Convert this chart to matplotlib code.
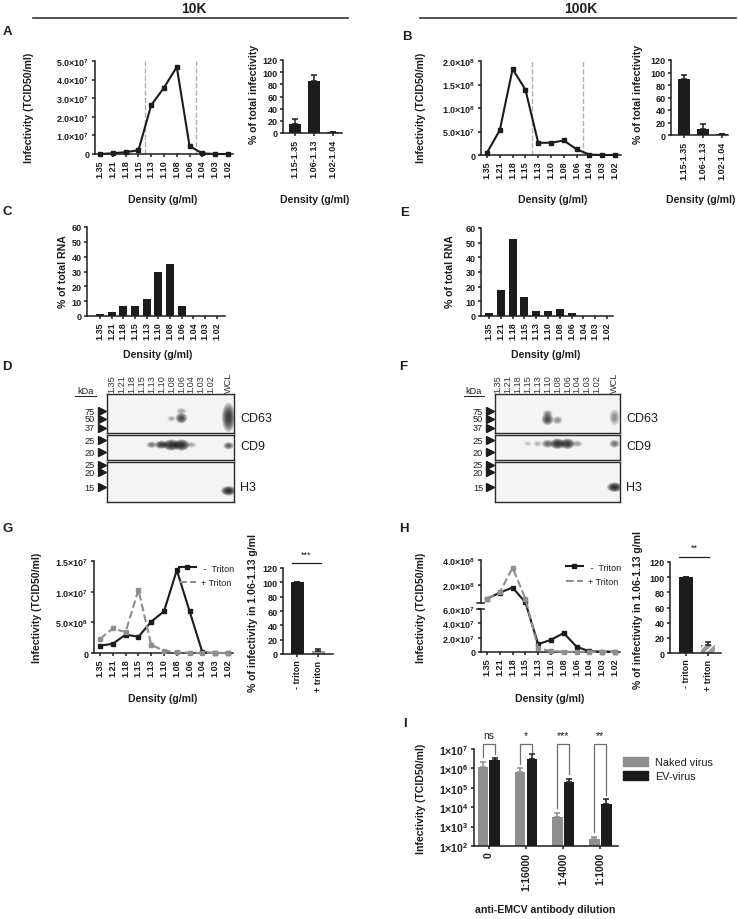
import numpy as np
import matplotlib
matplotlib.use("Agg")
import matplotlib.pyplot as plt
from matplotlib.patches import Ellipse, Patch
from matplotlib.lines import Line2D
from matplotlib.ticker import LogLocator, NullFormatter

plt.rcParams['font.family'] = ['Liberation Sans', 'DejaVu Sans']
plt.rcParams['font.weight'] = 'bold'
plt.rcParams['mathtext.fontset'] = 'custom'
plt.rcParams['mathtext.rm'] = 'Liberation Sans'
plt.rcParams['mathtext.bf'] = 'Liberation Sans:bold'
plt.rcParams['axes.linewidth'] = 1.1
plt.rcParams['text.color'] = '#1e1e1e'

# ---- data ----
density = ['1.35', '1.21', '1.18', '1.15', '1.13', '1.10', '1.08', '1.06', '1.04', '1.03', '1.02']
pools = ['1.15-1.35', '1.06-1.13', '1.02-1.04']

a_infect = [0.0, 0.4e6, 1.0e6, 2.0e6, 2.63e7, 3.57e7, 4.68e7, 4.3e6, 0.3e6, 0.0, 0.0]
a_pool = [14, 85, 1]
a_pool_err = [9, 10, 0.5]

b_infect = [5e6, 5.3e7, 1.83e8, 1.39e8, 2.6e7, 2.6e7, 3.1e7, 1.2e7, 1e6, 0.0, 0.0]
b_pool = [89, 10, 1]
b_pool_err = [7, 7, 0.5]

c_rna = [1.5, 2.5, 6.5, 7, 11.5, 30, 35, 6.5, 0, 0, 0]
e_rna = [2.3, 17.5, 52.5, 13.2, 3.2, 3.2, 4.8, 1.8, 0, 0, 0]

g_minus = [1.2e6, 1.5e6, 3.0e6, 2.65e6, 5.1e6, 6.8e6, 13.5e6, 6.8e6, 0.1e6, 0.0, 0.0]
g_plus = [2.3e6, 4.0e6, 3.4e6, 10.3e6, 1.3e6, 0.4e6, 0.1e6, 0.05e6, 0.0, 0.0, 0.0]
g_pool = [100, 4]
g_pool_err = [0, 3.5]

h_minus = [9.3e7, 1.42e8, 1.82e8, 6.5e7, 1.1e7, 1.7e7, 2.65e7, 0.74e7, 0.1e7, 0.05e7, 0.05e7]
h_plus = [9.5e7, 1.45e8, 3.38e8, 9.5e7, 0.5e7, 0.14e7, 0.05e7, 0.02e7, 0.0, 0.0, 0.0]
h_pool = [100, 10]
h_pool_err = [0, 4]
triton_labels = ['- triton', '+ triton']

dilutions = ['0', '1:16000', '1:4000', '1:1000']
naked = [1.2e6, 6.2e5, 3.0e3, 240]
naked_err = [2.2e6, 1.0e6, 5.3e3, 300]
ev = [2.7e6, 3.0e6, 2.0e5, 1.55e4]
ev_err = [3.4e6, 5.5e6, 3.0e5, 2.6e4]
sig = ['ns', '*', '***', '**']

# western blots: lanes and bands (lane, y frac, width, height, intensity)
lanes = density + ['WCL']
lane_pos = list(range(11)) + [11.75]
d_cd63 = [(6, 0.37, 0.6, 0.10, 0.25), (7, 0.38, 0.8, 0.18, 0.75), (7, 0.56, 0.7, 0.12, 0.25),
          (11.75, 0.40, 0.9, 0.50, 0.85)]
d_cd9 = [(4, 0.61, 0.7, 0.18, 0.45), (5, 0.61, 0.9, 0.22, 0.85), (6, 0.60, 1.1, 0.30, 1.0),
         (7, 0.60, 1.1, 0.30, 1.0), (8, 0.61, 0.7, 0.16, 0.25), (11.75, 0.57, 0.7, 0.20, 0.6)]
d_h3 = [(11.75, 0.28, 1.0, 0.16, 1.0)]
f_cd63 = [(5, 0.35, 0.8, 0.20, 0.75), (5, 0.50, 0.7, 0.12, 0.35), (6, 0.33, 0.7, 0.14, 0.35),
          (11.75, 0.40, 0.7, 0.28, 0.35)]
f_cd9 = [(3, 0.65, 0.5, 0.14, 0.15), (4, 0.65, 0.6, 0.16, 0.2), (5, 0.65, 0.8, 0.22, 0.55),
         (6, 0.65, 1.0, 0.28, 0.95), (7, 0.65, 1.0, 0.28, 0.9), (8, 0.65, 0.7, 0.18, 0.3),
         (11.75, 0.65, 0.7, 0.22, 0.5)]
f_h3 = [(11.75, 0.37, 1.0, 0.16, 1.0)]
kda_cd63 = [('75', 0.56), ('50', 0.36), ('37', 0.13)]
kda_cd9 = [('25', 0.80), ('20', 0.32)]
kda_h3 = [('25', 0.93), ('20', 0.75), ('15', 0.37)]

BLACK = '#1c1c1c'
GREY = '#8e8e8e'

W, H = 738, 920
fig = plt.figure(figsize=(W / 100, H / 100), dpi=100)


def px_axes(left, top, right, bottom):
    return fig.add_axes([left / W, 1 - bottom / H, (right - left) / W, (bottom - top) / H])


def ftext(x, y, s, **kw):
    return fig.text(x / W, 1 - y / H, s, **kw)


def style(ax, size=6.5):
    for s in ['top', 'right']:
        ax.spines[s].set_visible(False)
    for s in ['left', 'bottom']:
        ax.spines[s].set_color('#1e1e1e')
    ax.tick_params(direction='out', length=2.5, width=1.1, labelsize=size, pad=1.5, colors='#1e1e1e')


def sci(v):
    if v == 0:
        return '0'
    e = int(np.floor(np.log10(v) + 1e-9))
    return r'$\mathbf{%.1f{\times}10^{%d}}$' % (v / 10 ** e, e)


def density_line(ax, xlim, series, ymax, yticks):
    style(ax)
    x = np.arange(len(density))
    for vals, color, ls in series:
        ax.plot(x, vals, color=color, ls=ls, lw=1.5, marker='s', ms=2.3, clip_on=False, zorder=3)
    ax.set_xlim(*xlim)
    ax.set_ylim(0, ymax)
    ax.set_xticks(x)
    ax.set_xticklabels(density, rotation=90)
    ax.set_yticks(yticks)
    ax.set_yticklabels([sci(v) for v in yticks])


def pool_bars(ax, xlim, vals, errs, labels, colors, hatch=None):
    style(ax)
    x = np.arange(len(vals))
    bars = ax.bar(x, vals, width=0.62, color=colors, edgecolor=colors, lw=0)
    if hatch:
        bars[-1].set_hatch(hatch)
        bars[-1].set_edgecolor('white')
    ax.errorbar(x, vals, yerr=[np.zeros(len(errs)), errs], fmt='none', ecolor=BLACK,
                elinewidth=1.1, capsize=2.5, capthick=1.1)
    ax.set_xlim(*xlim)
    ax.set_ylim(0, 120)
    ax.set_yticks(range(0, 121, 20))
    ax.set_xticks(x)
    ax.set_xticklabels(labels, rotation=90)


# ---- header ----
ftext(194, 9, '10K', fontsize=10, ha='center', va='center')
ftext(581, 9, '100K', fontsize=10, ha='center', va='center')
fig.add_artist(Line2D([33 / W, 348 / W], [1 - 19 / H] * 2, lw=1.2, color='#333333'))
fig.add_artist(Line2D([420 / W, 736 / W], [1 - 19 / H] * 2, lw=1.2, color='#333333'))

for letter, x, y in [('A', 7, 32), ('B', 407, 37), ('C', 7, 212), ('E', 405, 213),
                     ('D', 7, 367), ('F', 403, 367), ('G', 8, 529), ('H', 404, 529), ('I', 405, 724)]:
    ftext(x, y, letter, fontsize=9.5, ha='center', va='center')

# ---- A ----
ax = px_axes(95, 62, 233, 155)
density_line(ax, (-0.4, 10.4), [(a_infect, BLACK, '-')], 5e7, [0, 1e7, 2e7, 3e7, 4e7, 5e7])
for xv in [3.5, 7.5]:
    ax.axvline(xv, color='#b0b0b0', lw=1.0, ls='--', zorder=1)
ftext(29, 108, 'Infectivity (TCID50/ml)', fontsize=7.6, rotation=90, ha='center', va='center')
ftext(163, 200, 'Density (g/ml)', fontsize=7.6, ha='center', va='center')

ax = px_axes(283, 61, 342, 134)
pool_bars(ax, (-0.63, 2.47), a_pool, a_pool_err, pools, [BLACK] * 3)
ftext(254, 94, '% of total infectivity', fontsize=7.6, rotation=90, ha='center', va='center')
ftext(315, 200, 'Density (g/ml)', fontsize=7.6, ha='center', va='center')

# ---- B ----
ax = px_axes(481, 62, 621, 156)
density_line(ax, (-0.47, 10.47), [(b_infect, BLACK, '-')], 2e8, [0, 5e7, 1e8, 1.5e8, 2e8])
for xv in [3.5, 7.5]:
    ax.axvline(xv, color='#b0b0b0', lw=1.0, ls='--', zorder=1)
ftext(421, 108, 'Infectivity (TCID50/ml)', fontsize=7.6, rotation=90, ha='center', va='center')
ftext(553, 200, 'Density (g/ml)', fontsize=7.6, ha='center', va='center')

ax = px_axes(671, 61, 728, 136)
pool_bars(ax, (-0.68, 2.32), b_pool, b_pool_err, pools, [BLACK] * 3)
ftext(638, 94, '% of total infectivity', fontsize=7.6, rotation=90, ha='center', va='center')
ftext(701, 200, 'Density (g/ml)', fontsize=7.6, ha='center', va='center')

# ---- C / E ----
for box, xlim, vals, ylab_x, dens_x in [((87, 228, 225, 317), (-1.1, 10.7), c_rna, 63, 158),
                                        ((481, 229, 613, 317), (-0.68, 10.5), e_rna, 450, 546)]:
    ax = px_axes(*box)
    style(ax)
    x = np.arange(len(density))
    ax.bar(x, vals, width=0.68, color=BLACK)
    ax.set_xlim(*xlim)
    ax.set_ylim(0, 60)
    ax.set_yticks(range(0, 61, 10))
    ax.set_xticks(x)
    ax.set_xticklabels(density, rotation=90)
    ftext(ylab_x, 272, '% of total RNA', fontsize=7.6, rotation=90, ha='center', va='center')
    ftext(dens_x, 355, 'Density (g/ml)', fontsize=7.6, ha='center', va='center')


# ---- D / F blots ----
def blot(ax, bands, xlim, label, kda, top=False):
    ax.set_xlim(*xlim)
    ax.set_ylim(0, 1)
    ax.set_facecolor('#f4f4f4')
    for lane, yc, w, h, v in bands:
        for s in np.linspace(1.5, 0.45, 7):
            ax.add_patch(Ellipse((lane, yc), w * s, h * s, color='black', alpha=min(1, v * 0.2), lw=0))
    for sp in ax.spines.values():
        sp.set_color('#2a2a2a')
        sp.set_linewidth(1.0)
    ax.set_yticks([])
    if top:
        ax.xaxis.tick_top()
        ax.set_xticks(lane_pos)
        ax.set_xticklabels(lanes, rotation=90, fontsize=6.6, fontweight='normal', color='#333333')
        ax.tick_params(axis='x', length=0, pad=1.5)
    else:
        ax.set_xticks([])
    ax.text(1.05, 0.38 if label != 'CD9' else 0.55, label, transform=ax.transAxes,
            fontsize=9, fontweight='normal', va='center', ha='left')
    trans = ax.get_yaxis_transform()
    for txt, yf in kda:
        ax.plot([-0.042], [yf], marker='>', ms=5.5, color=BLACK, transform=trans, clip_on=False)
        ax.text(-0.095, yf, txt, transform=trans, fontsize=6.6, fontweight='normal',
                ha='right', va='center')


for left, right, xlim, sets in [(107, 234, (-0.5, 12.3), (d_cd63, d_cd9, d_h3)),
                                (495, 620, (-0.3, 12.3), (f_cd63, f_cd9, f_h3))]:
    ax1 = px_axes(left, 395, right, 434)
    blot(ax1, sets[0], xlim, 'CD63', kda_cd63, top=True)
    ax1.text(-0.17, 1.08, 'kDa', transform=ax1.transAxes, fontsize=6.6, fontweight='normal',
             ha='center', va='center')
    ax1.plot([-0.25, -0.09], [0.96, 0.96], transform=ax1.transAxes, color='#1e1e1e', lw=0.7,
             clip_on=False)
    ax2 = px_axes(left, 436, right, 461)
    blot(ax2, sets[1], xlim, 'CD9', kda_cd9)
    ax3 = px_axes(left, 463, right, 503)
    blot(ax3, sets[2], xlim, 'H3', kda_h3)

# ---- G ----
ax = px_axes(94, 562, 233, 654)
density_line(ax, (-0.47, 10.39), [(g_minus, BLACK, '-'), (g_plus, GREY, '--')], 1.5e7,
             [0, 5e6, 1e7, 1.5e7])
handles = [Line2D([], [], color=BLACK, lw=1.5, marker='s', ms=2.3),
           Line2D([], [], color=GREY, lw=1.5, ls='--')]
ax.legend(handles, [' -  Triton', '+ Triton'], loc='upper right', bbox_to_anchor=(1.07, 1.06),
          frameon=False, prop={'size': 6.5, 'weight': 'normal'}, handlelength=1.9,
          handletextpad=0.6, labelspacing=0.6, numpoints=1)
ftext(37, 608, 'Infectivity (TCID50/ml)', fontsize=7.6, rotation=90, ha='center', va='center')
ftext(163, 699, 'Density (g/ml)', fontsize=7.6, ha='center', va='center')

ax = px_axes(283, 569, 333, 655)
pool_bars(ax, (-0.67, 1.71), g_pool, g_pool_err, triton_labels, [BLACK, '#9a9a9a'])
ax.plot([-0.25, 1.15], [127, 127], color='#1e1e1e', lw=0.9, clip_on=False)
ax.text(0.45, 133, '***', ha='center', va='bottom', fontsize=6.5, fontweight='normal')
ftext(253, 613, '% of infectivity in 1.06-1.13 g/ml', fontsize=7.6, rotation=90,
      ha='center', va='center')

# ---- H (broken y axis) ----
H_LOW, H_TOP = 6e7, 4e8


def h_fwd(y):
    y = np.asarray(y, dtype=float)
    return np.where(y <= H_LOW, y / H_LOW * 43.0, 49.0 + (y - H_LOW) / (H_TOP - H_LOW) * 43.0)


def h_inv(v):
    v = np.asarray(v, dtype=float)
    return np.where(v <= 43.0, v / 43.0 * H_LOW,
                    np.where(v < 49.0, H_LOW, H_LOW + (v - 49.0) / 43.0 * (H_TOP - H_LOW)))


ax = px_axes(481, 561, 620, 653)
ax.set_yscale('function', functions=(h_fwd, h_inv))
density_line(ax, (-0.47, 10.4), [(h_minus, BLACK, '-'), (h_plus, GREY, '--')], H_TOP,
             [0, 2e7, 4e7, 6e7, 2e8, 4e8])
ax.set_ylim(0, H_TOP)
ax.minorticks_off()
ax.spines['left'].set_visible(False)
ytr = ax.get_yaxis_transform()
ax.plot([0, 0], [0, H_LOW], color='#1e1e1e', lw=1.1, transform=ytr, clip_on=False)
ax.plot([0, 0], [H_LOW * 1.0001, H_TOP], color='#1e1e1e', lw=1.1, transform=ytr, clip_on=False)
for yb in [H_LOW, H_LOW * 1.0001]:
    ax.plot([-0.03, 0.025], [yb, yb], color='#1e1e1e', lw=1.1, transform=ytr, clip_on=False)
ax.legend(handles, [' -  Triton', '+ Triton'], loc='upper right', bbox_to_anchor=(1.07, 1.06),
          frameon=False, prop={'size': 6.5, 'weight': 'normal'}, handlelength=1.9,
          handletextpad=0.6, labelspacing=0.6, numpoints=1)
ftext(421, 608, 'Infectivity (TCID50/ml)', fontsize=7.6, rotation=90, ha='center', va='center')
ftext(550, 699, 'Density (g/ml)', fontsize=7.6, ha='center', va='center')

ax = px_axes(670, 563, 721, 654)
pool_bars(ax, (-0.73, 1.59), h_pool, h_pool_err, triton_labels, [BLACK, '#9a9a9a'], hatch='////')
ax.plot([-0.3, 1.05], [127, 127], color='#1e1e1e', lw=0.9, clip_on=False)
ax.text(0.4, 133, '**', ha='center', va='bottom', fontsize=6.5, fontweight='normal')
ftext(638, 610, '% of infectivity in 1.06-1.13 g/ml', fontsize=7.6, rotation=90,
      ha='center', va='center')

# ---- I ----
ax = px_axes(474, 750, 618, 847)
style(ax, size=7.5)
ax.set_yscale('log')
x = np.arange(len(dilutions))
off, bw = 0.16, 0.29
ax.bar(x - off, naked, width=bw, color=GREY)
ax.bar(x + off, ev, width=bw, color=BLACK)
ax.errorbar(x - off, naked, yerr=[np.zeros(4), np.array(naked_err) - np.array(naked)], fmt='none',
            ecolor=GREY, elinewidth=1.1, capsize=2.2, capthick=1.1)
ax.errorbar(x + off, ev, yerr=[np.zeros(4), np.array(ev_err) - np.array(ev)], fmt='none',
            ecolor=BLACK, elinewidth=1.1, capsize=2.2, capthick=1.1)
ax.set_ylim(1e2, 1e7)
ax.set_xlim(-0.4, 3.48)
ax.set_yticks([10.0 ** k for k in range(2, 8)])
ax.set_yticklabels([r'$\mathbf{1{\times}10^{%d}}$' % k for k in range(2, 8)])
ax.yaxis.set_minor_locator(LogLocator(base=10, subs=np.arange(2, 10)))
ax.yaxis.set_minor_formatter(NullFormatter())
ax.tick_params(axis='y', which='minor', length=1.5, width=0.8)
ax.set_xticks(x)
ax.set_xticklabels(dilutions, rotation=90)
bracket_top = 1.8e7
for i in range(len(dilutions)):
    left_end = naked_err[i] * 1.7
    right_end = min(ev_err[i] * 1.7, 7e6)
    ax.plot([i - off, i - off, i + off, i + off], [left_end, bracket_top, bracket_top, right_end],
            color='#6e6e6e', lw=0.9, clip_on=False)
    ax.text(i, bracket_top * 1.6, sig[i], ha='center', va='bottom', fontsize=7.5,
            fontweight='normal')
ax.legend([Patch(color=GREY), Patch(color=BLACK)], ['Naked virus', 'EV-virus'],
          loc='upper left', bbox_to_anchor=(0.97, 1.02), frameon=False,
          prop={'size': 7.8, 'weight': 'normal'}, handlelength=2.3, handleheight=0.9,
          labelspacing=0.35, handletextpad=0.6)
ftext(421, 799, 'Infectivity (TCID50/ml)', fontsize=7.6, rotation=90, ha='center', va='center')
ftext(545, 910, 'anti-EMCV antibody dilution', fontsize=7.6, ha='center', va='center')

fig.savefig('out.png', dpi=100)
